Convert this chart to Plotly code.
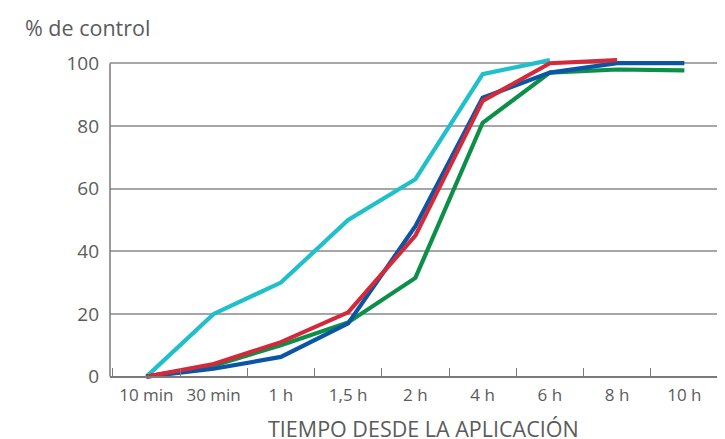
import plotly.graph_objects as go

categories = ["10 min", "30 min", "1 h", "1,5 h", "2 h", "4 h", "6 h", "8 h", "10 h"]
cyan_vals = [0, 20, 30, 50, 63, 96.5, 101, None, None]
blue_vals = [0, 2.5, 6.3, 17, 48, 89, 97, 100, 100]
red_vals = [0, 4, 11, 20.5, 45, 88, 100, 101, None]
green_vals = [0, 3.5, 10, 17.3, 31.5, 81, 97, 98, 97.7]
y_ticks = [0, 20, 40, 60, 80, 100]

series = [
    ("cyan", cyan_vals, "#1fc0cb"),
    ("green", green_vals, "#0c8f48"),
    ("blue", blue_vals, "#0b55a6"),
    ("red", red_vals, "#d22a3a"),
]

TXT = "#5b5b5b"
FONT = "Open Sans"

fig = go.Figure()
for name, vals, col in series:
    fig.add_trace(go.Scatter(
        x=categories, y=vals, mode="lines", name=name,
        line=dict(color=col, width=4.2), connectgaps=False,
        showlegend=False,
    ))

# page body has an 8px default margin, so the figure is drawn 8px smaller
L, T, B = 102, 43, 58
W, H = 717, 431
PW = W - L
y0, y1 = -1.4, 103.9
fig.update_layout(
    width=W, height=H,
    margin=dict(l=L, r=0, t=T, b=B),
    paper_bgcolor="white", plot_bgcolor="white",
    font=dict(family=FONT, color=TXT),
    xaxis=dict(
        type="category", categoryorder="array", categoryarray=categories,
        range=[-0.541, 8.604], tickson="boundaries",
        ticks="inside", ticklen=8, tickcolor="#7a7a7a", tickwidth=1,
        showline=True, linecolor="#7a7a7a", linewidth=1.5,
        showgrid=False, zeroline=False,
        anchor="free", position=(0 - y0) / (y1 - y0),
        tickfont=dict(size=17, color=TXT, family=FONT),
        ticklabelstandoff=3,
    ),
    yaxis=dict(
        range=[y0, y1], tickvals=y_ticks,
        showgrid=True, gridcolor="#a6a6a6", gridwidth=1.5,
        zeroline=False, showline=False, ticks="",
        tickfont=dict(size=19, color=TXT, family=FONT),
        ticklabelstandoff=10,
    ),
    shapes=[dict(type="line", xref="paper", yref="y", x0=0, x1=0, y0=0, y1=100,
                 line=dict(color="#7a7a7a", width=1.5), layer="above")],
    annotations=[
        dict(text="% de control", xref="paper", yref="paper", x=(15 - L) / PW, y=1,
             xanchor="left", yanchor="middle", yshift=(T - 19), showarrow=False,
             font=dict(size=21.5, color=TXT, family=FONT)),
        dict(text="TIEMPO DESDE LA APLICACIÓN", xref="paper", yref="paper",
             x=(415 - L) / PW, y=0, xanchor="center", yanchor="middle",
             yshift=-(420 - (H - B)), showarrow=False,
             font=dict(size=21.5, color=TXT, family=FONT)),
    ],
)

fig.write_html("out.html")
